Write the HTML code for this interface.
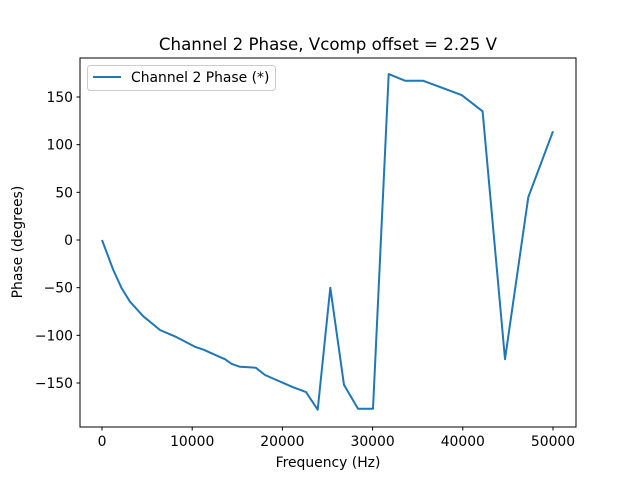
<!DOCTYPE html>
<html><head><meta charset="utf-8"><style>
body{margin:0;background:#fff}
svg{display:block;font-family:"DejaVu Sans","Liberation Sans",sans-serif}
</style></head><body>
<svg id="chart" width="640" height="480">
<rect width="640" height="480" fill="#fff"/>
<text x="328" y="50" font-size="16.67" text-anchor="middle">Channel 2 Phase, Vcomp offset = 2.25 V</text>
<g id="ticks"></g>
<g id="plot"></g>
<rect x="80" y="58" width="496" height="369" fill="none" stroke="#000" stroke-width="1"/>
<text x="328" y="467" font-size="13.9" text-anchor="middle">Frequency (Hz)</text>
<text x="22" y="242" font-size="13.9" text-anchor="middle" transform="rotate(-90 22 242)">Phase (degrees)</text>
<g>
<rect x="87.5" y="65.5" width="188" height="25" rx="3" fill="#fff" stroke="#ccc"/>
<line x1="93" y1="77" x2="121" y2="77" stroke="#1f77b4" stroke-width="2"/>
<text x="131" y="82" font-size="13.9">Channel 2 Phase (*)</text>
</g>
</svg>
<script>
const freqs=[0,1250,2180,3100,4580,6430,8280,10310,11230,12890,13640,14380,15300,17040,18070,21210,22620,23910,25310,26830,28380,30040,31780,33630,35620,39880,42200,44680,47260,50000];
const phases=[0,-31.5,-50.7,-64.7,-80,-94.4,-102,-112,-115,-122,-125,-130,-133,-134,-141.6,-154.5,-159.5,-178,-50,-152,-177,-177,174,167,167,152,135,-125,45,114];
const xTicks=[0,10000,20000,30000,40000,50000];
const yTicks=[-150,-100,-50,0,50,100,150];
const X=v=>102+v*451/50000;
const Y=v=>240-v*286/300;
const NS="http://www.w3.org/2000/svg";
const tg=document.getElementById('ticks');
function mk(t,a,p){const e=document.createElementNS(NS,t);for(const k in a)e.setAttribute(k,a[k]);p.appendChild(e);return e;}
xTicks.forEach(v=>{
 const l=mk('line',{x1:X(v),x2:X(v),y1:427,y2:430.5,stroke:'#000'},tg);
 
 
 const t=mk('text',{x:X(v),y:446,'font-size':13.9,'text-anchor':'middle'},tg);t.textContent=v;
 
 
});
yTicks.forEach(v=>{
 const l=mk('line',{x1:76.5,x2:80,y1:Y(v),y2:Y(v),stroke:'#000'},tg);
 
 
 const t=mk('text',{x:73,y:Y(v)+5,'font-size':13.9,'text-anchor':'end'},tg);t.textContent=v<0?'\u2212'+(-v):v;
 
 
});
const pts=freqs.map((f,i)=>X(f).toFixed(1)+','+Y(phases[i]).toFixed(1)).join(' ');
const pl=mk('polyline',{points:pts,fill:'none',stroke:'#1f77b4','stroke-width':2,'stroke-linejoin':'round'},document.getElementById('plot'));


</script>
</body></html>
